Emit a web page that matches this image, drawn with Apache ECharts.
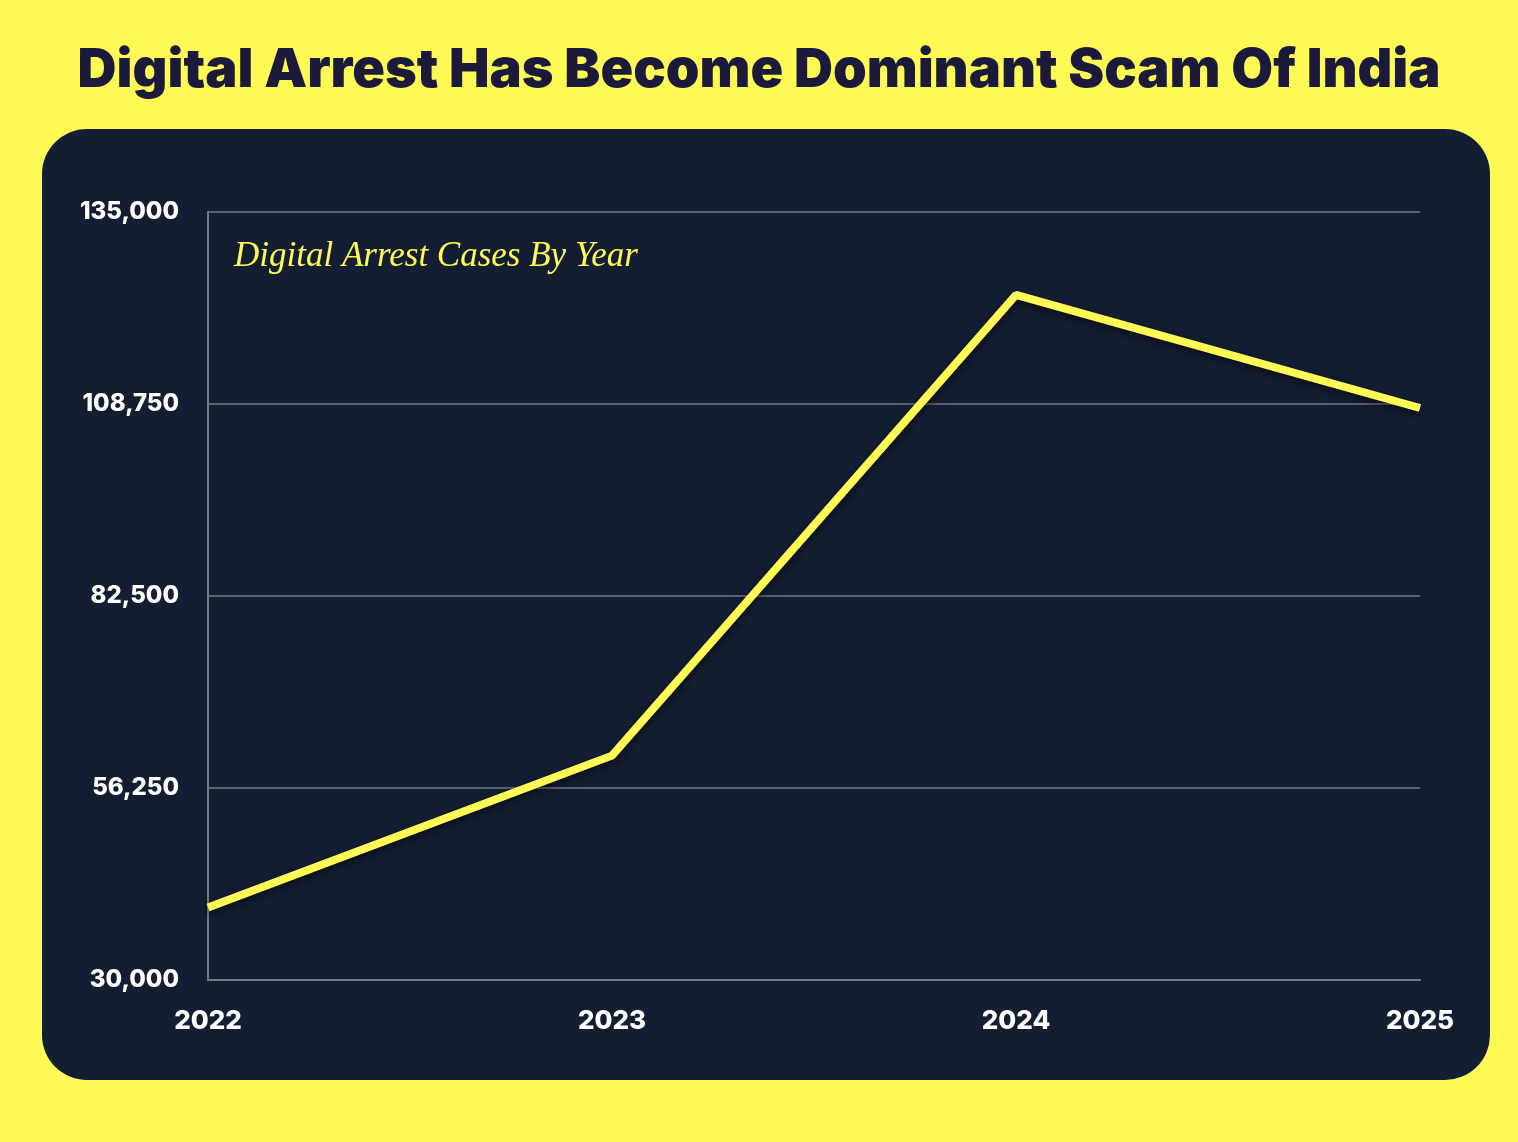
<!DOCTYPE html>
<html>
<head>
<meta charset="utf-8">
<script src="https://cdn.jsdelivr.net/npm/echarts@6/dist/echarts.min.js"></script>
<style>
html,body{margin:0;padding:0;background:#fffa55;}
#c{width:1518px;height:1142px;}
</style>
</head>
<body>
<div id="c"></div>
<script>
const years = ['2022', '2023', '2024', '2025'];
const cases = [39925, 60676, 123672, 108200];
const yTicks = [30000, 56250, 82500, 108750, 135000];

const chart = echarts.init(document.getElementById('c'));
chart.setOption({
  backgroundColor: '#fffa55',
  animation: false,
  title: [{
    text: 'Digital Arrest Has Become Dominant Scam Of India',
    left: 'center', top: 39,
    textStyle: { fontFamily: 'Inter', fontWeight: 900, fontSize: 54, color: '#1b1a3a' }
  }, {
    text: 'Digital Arrest Cases By Year',
    left: 229, top: 234,
    textStyle: { fontFamily: 'Liberation Serif', fontStyle: 'italic', fontWeight: 'normal', fontSize: 35, color: '#fffa55' }
  }],
  graphic: [{
    type: 'rect', z: -10, silent: true,
    shape: { x: 42, y: 129, width: 1448, height: 951, r: 45 },
    style: { fill: '#141e32' }
  }],
  grid: { left: 208, right: 98, top: 212, bottom: 162 },
  xAxis: {
    type: 'category', data: years, boundaryGap: false,
    axisLine: { show: true, lineStyle: { color: '#777a82', width: 2 } },
    axisTick: { show: false },
    axisLabel: { color: '#ffffff', fontFamily: 'Inter', fontWeight: 800, fontSize: 26, margin: 28 }
  },
  yAxis: {
    type: 'value', min: 30000, max: 135000, interval: 26250,
    axisLine: { show: true, lineStyle: { color: '#777a82', width: 2 } },
    axisTick: { show: false },
    splitLine: { lineStyle: { color: '#777a82', width: 1.5 } },
    axisLabel: {
      color: '#ffffff', fontFamily: 'Inter', fontWeight: 800, fontSize: 24, margin: 29,
      formatter: v => v.toLocaleString('en-US')
    }
  },
  series: [{
    type: 'line', data: cases, symbol: 'none',
    lineStyle: { color: '#fffa55', width: 8, shadowColor: 'rgba(0,0,0,0.6)', shadowBlur: 8, shadowOffsetY: 3 }
  }]
});
</script>
</body>
</html>
